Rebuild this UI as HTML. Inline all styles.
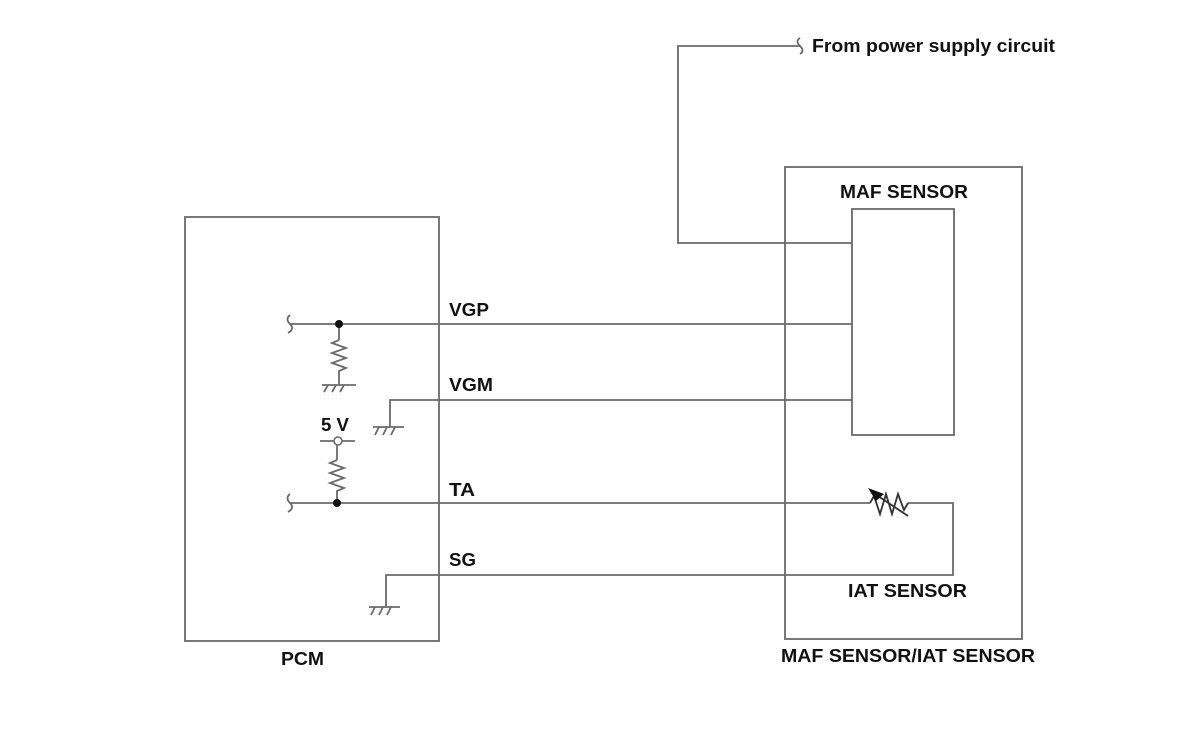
<!DOCTYPE html>
<html><head><style>body{margin:0;background:#fff}svg{display:block}text{font-family:"Liberation Sans",sans-serif;font-weight:bold;font-size:18px;fill:#111}</style></head><body>
<svg width="1200" height="731" viewBox="0 0 1200 731">
<g fill="none" stroke="#6a6a6a" stroke-width="1.8">
<rect x="185" y="217" width="254" height="424"/>
<rect x="785" y="167" width="237" height="472"/>
<rect x="852" y="209" width="102" height="226"/>
<polyline points="852,243 678,243 678,46 800,46"/>
<path d="M800,46 q-5,-5 0,-8 M800,46 q5,5 0,8"/>
<line x1="290" y1="324" x2="852" y2="324"/>
<path d="M290,324 q-5,-5 0,-9 M290,324 q5,5 -2,9"/>
<polyline points="852,400 390,400 390,427"/>
<line x1="290" y1="503" x2="870" y2="503"/>
<path d="M290,503 q-5,-5 0,-9 M290,503 q5,5 -2,9"/>
<polyline points="908,503 953,503 953,575 386,575 386,607"/>
<line x1="339" y1="324" x2="339" y2="340"/>
<polyline points="339,340 332,343 346,348 332,353 346,358 332,363 346,368 339,371 339,385"/>
<line x1="322" y1="385" x2="356" y2="385"/>
<path d="M328,385 l-4,7 M336,385 l-4,7 M344,385 l-4,7"/>
<line x1="373" y1="427" x2="404" y2="427"/>
<path d="M379,427 l-4,8 M387,427 l-4,8 M395,427 l-4,8"/>
<line x1="369" y1="607" x2="400" y2="607"/>
<path d="M375,607 l-4,8 M383,607 l-4,8 M391,607 l-4,8"/>
<line x1="320" y1="441" x2="355" y2="441"/>
<line x1="337" y1="444" x2="337" y2="460"/>
<polyline points="337,460 330,463 344,468 330,473 344,478 330,483 344,488 337,491 337,503"/>
<polyline points="870,503 874,496 880,514 886,494 892,514 898,494 904,510 908,503" stroke="#333"/>
<line x1="872" y1="492" x2="908" y2="516" stroke="#333"/>
</g>
<circle cx="338" cy="441" r="4" fill="#fff" stroke="#6a6a6a" stroke-width="1.6"/>
<circle cx="339" cy="324" r="4" fill="#111"/>
<circle cx="337" cy="503" r="4" fill="#111"/>
<polygon points="868,488 884,494 876,501" fill="#111"/>
<text x="812" y="52" textLength="243" lengthAdjust="spacingAndGlyphs">From power supply circuit</text>
<text x="840" y="198" textLength="128" lengthAdjust="spacingAndGlyphs">MAF SENSOR</text>
<text x="449" y="316" textLength="40" lengthAdjust="spacingAndGlyphs">VGP</text>
<text x="449" y="391" textLength="44" lengthAdjust="spacingAndGlyphs">VGM</text>
<text x="321" y="431" textLength="28" lengthAdjust="spacingAndGlyphs">5 V</text>
<text x="449" y="496" textLength="26" lengthAdjust="spacingAndGlyphs">TA</text>
<text x="449" y="566" textLength="27" lengthAdjust="spacingAndGlyphs">SG</text>
<text x="848" y="597" textLength="119" lengthAdjust="spacingAndGlyphs">IAT SENSOR</text>
<text x="281" y="665" textLength="43" lengthAdjust="spacingAndGlyphs">PCM</text>
<text x="781" y="662" textLength="254" lengthAdjust="spacingAndGlyphs">MAF SENSOR/IAT SENSOR</text>
</svg>
</body></html>
